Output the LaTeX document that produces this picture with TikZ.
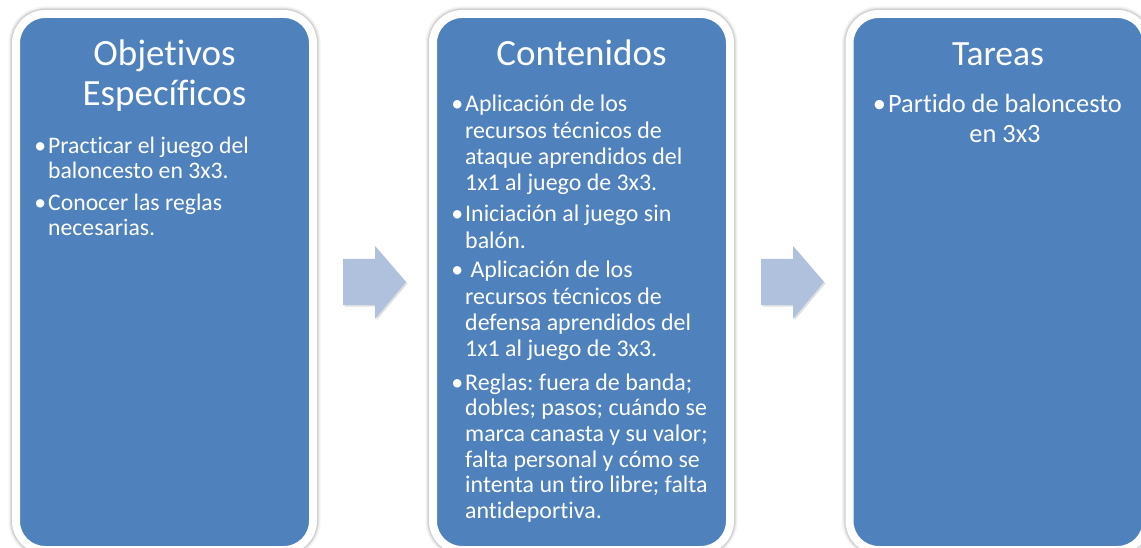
\documentclass[tikz,border=0pt]{standalone}
\usepackage{fontspec}
\setmainfont{Carlito}[RawFeature={-liga;-clig;-calt;-dlig}]
\frenchspacing
\definecolor{boxblue}{RGB}{79,129,189}
\definecolor{arrowblue}{RGB}{176,193,222}
\newcommand{\blk}[4]{\fontsize{#1}{#2}\selectfont\frenchspacing\begin{tabular}[t]{@{}#3@{}}#4\end{tabular}}
\newcommand{\bul}{\llap{•\hspace{2pt}}}
\begin{document}
\begin{tikzpicture}[x=1pt,y=-1pt,
  box/.style={rectangle, rounded corners=29pt, fill=boxblue, draw=white, line width=8pt,
    minimum width=297pt, minimum height=536pt, inner sep=0pt,
    preaction={draw=black, fill=none, draw opacity=0.05, line width=15pt},
    preaction={draw=black, fill=none, draw opacity=0.07, line width=12pt},
    preaction={draw=black, fill=none, draw opacity=0.08, line width=10pt}},
  txt/.style={text=white, inner sep=0pt},
  blockarrow/.style={fill=arrowblue, draw=none},
  arrowshadow/.style={fill=black, fill opacity=0.12, draw=none}]
\useasboundingbox (0,0) rectangle (1141,548);
\clip (0,0) rectangle (1141,548);
\fill[white] (0,0) rectangle (1141,548);
% boxes
\node[box] (b1) at (164.5,282) {};
\node[box] (b2) at (581.5,282) {};
\node[box] (b3) at (998,282) {};
% block arrows
\coordinate (a1) at (343,282);
\coordinate (a2) at (761,282);
\foreach \a in {a1,a2}{
  \fill[arrowshadow] ([shift={(1.5,1.5)}]\a) ++(0,-23) -- ++(32,0) -- ++(0,-13) -- ++(31,36) -- ++(-31,37) -- ++(0,-14) -- ++(-32,0) -- cycle;
  \fill[blockarrow] (\a) ++(0,-23) -- ++(32,0) -- ++(0,-13) -- ++(31,36) -- ++(-31,37) -- ++(0,-14) -- ++(-32,0) -- cycle;
}
% titles
\node[txt, anchor=base] (t1) at (164.5,66) {\blk{37}{40}{c}{Objetivos\\Específicos}};
\node[txt, anchor=base] (t2) at (581.5,66) {\blk{37}{40}{c}{Contenidos}};
\node[txt, anchor=base] (t3) at (998,66) {\blk{35.5}{40}{c}{Tareas}};
% Objetivos body
\node[txt, anchor=base west] (o1) at (48,154) {\blk{23.7}{24.4}{l}{\bul Practicar el juego del\\baloncesto en 3x3.}};
\node[txt, anchor=base west] (o2) at (48,210.7) {\blk{23.7}{24.4}{l}{\bul Conocer las reglas\\necesarias.}};
% Contenidos body
\node[txt, anchor=base west] (c1) at (465,112) {\blk{23.9}{26.2}{l}{\bul Aplicación de los\\recursos técnicos de\\ataque aprendidos del\\1x1 al juego de 3x3.}};
\node[txt, anchor=base west] (c2) at (465,222) {\blk{23.9}{26.2}{l}{\bul Iniciación al juego sin\\balón.}};
\node[txt, anchor=base west] (c3) at (465,278) {\blk{23.9}{26.2}{l}{\bul\ Aplicación de los\\recursos técnicos de\\defensa aprendidos del\\1x1 al juego de 3x3.}};
\node[txt, anchor=base west] (c4) at (465,390) {\blk{23.9}{25.7}{l}{\bul Reglas: fuera de banda;\\dobles; pasos; cuándo se\\marca canasta y su valor;\\falta personal y cómo se\\intenta un tiro libre; falta\\antideportiva.}};
% Tareas body
\node[txt, anchor=base] (p1) at (1005,113) {\blk{26.4}{30}{c}{\bul Partido de baloncesto\\en 3x3}};
\end{tikzpicture}
\end{document}
